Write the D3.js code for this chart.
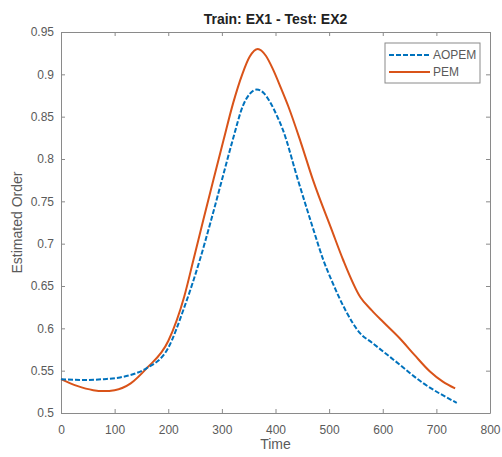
<!DOCTYPE html>
<html>
  <head>
    <meta http-equiv="Content-Type" content="text/html;charset=utf-8"/>
    <title>Train EX1 - Test EX2</title>
    <script src="https://d3js.org/d3.v7.min.js"></script>
    <style>
      body { margin: 0; background: #fff; }
      text { font-family: "Liberation Sans", Arial, sans-serif; }
    </style>
  </head>
  <body>
    <script type="text/javascript">
        // values
        const aopemTime = [0, 40, 80, 110, 140, 160, 200, 230, 259, 280, 300, 320, 340, 352, 365, 378, 390, 402, 414, 442, 471, 489, 505, 530, 558, 580, 620, 676, 738]
        const aopemOrder = [0.540, 0.539, 0.540, 0.542, 0.547, 0.553, 0.577, 0.625, 0.681, 0.728, 0.775, 0.822, 0.864, 0.877, 0.882, 0.878, 0.867, 0.852, 0.834, 0.775, 0.716, 0.681, 0.656, 0.622, 0.594, 0.583, 0.563, 0.535, 0.512]

        const pemTime = [0, 30, 60, 80, 100, 130, 160, 200, 230, 247, 265, 284, 303, 321, 338, 352, 367, 382, 396, 410, 424, 447, 470, 505, 526, 558, 580, 600, 632, 660, 688, 712, 735]
        const pemOrder = [0.540, 0.532, 0.527, 0.526, 0.527, 0.535, 0.553, 0.585, 0.638, 0.681, 0.727, 0.775, 0.822, 0.866, 0.900, 0.921, 0.930, 0.922, 0.905, 0.884, 0.862, 0.820, 0.775, 0.716, 0.681, 0.637, 0.621, 0.608, 0.588, 0.568, 0.549, 0.537, 0.529]

        const xTicks = [0, 100, 200, 300, 400, 500, 600, 700, 800]
        const yTicks = [0.5, 0.55, 0.6, 0.65, 0.7, 0.75, 0.8, 0.85, 0.9, 0.95]

        const width = 502,
            height = 457
        const margin = { top: 32, right: 12, bottom: 44, left: 61 }

        const svg = d3.select("body").append("svg")
            .attr("width", width)
            .attr("height", height)

        const x = d3.scaleLinear().domain([0, 800]).range([margin.left, width - margin.right])
        const y = d3.scaleLinear().domain([0.5, 0.95]).range([height - margin.bottom, margin.top])

        const axisColor = "#8a8a8a"
        const labelColor = "#5a5a5a"
        const tickLen = 4

        // box and inside ticks on all sides
        const drawAxis = (axis, transform) => {
            const g = svg.append("g").attr("transform", transform).call(axis)
            g.select(".domain").attr("stroke", axisColor)
            g.selectAll(".tick line").attr("stroke", axisColor)
            g.selectAll(".tick text")
                .attr("fill", labelColor)
                .style("font-size", "12px")
            return g
        }

        drawAxis(d3.axisBottom(x).tickValues(xTicks).tickSizeInner(-tickLen).tickSizeOuter(0).tickPadding(12)
            .tickFormat(d3.format("d")), `translate(0,${y(0.5)})`)
        drawAxis(d3.axisTop(x).tickValues(xTicks).tickSizeInner(-tickLen).tickSizeOuter(0).tickFormat(""),
            `translate(0,${y(0.95)})`)
        drawAxis(d3.axisLeft(y).tickValues(yTicks).tickSizeInner(-tickLen).tickSizeOuter(0).tickPadding(7)
            .tickFormat(d => d3.format("")(+d.toFixed(2))), `translate(${x(0)},0)`)
        drawAxis(d3.axisRight(y).tickValues(yTicks).tickSizeInner(-tickLen).tickSizeOuter(0).tickFormat(""),
            `translate(${x(800)},0)`)

        const line = d3.line()
            .x(d => x(d[0]))
            .y(d => y(d[1]))
            .curve(d3.curveMonotoneX)

        svg.append("path")
            .datum(pemTime.map((t, i) => [t, pemOrder[i]]))
            .attr("d", line)
            .attr("fill", "none")
            .attr("stroke", "#D95319")
            .attr("stroke-width", 2)

        svg.append("path")
            .datum(aopemTime.map((t, i) => [t, aopemOrder[i]]))
            .attr("d", line)
            .attr("fill", "none")
            .attr("stroke", "#0072BD")
            .attr("stroke-width", 2)
            .attr("stroke-dasharray", "5,2")

        // title and labels
        svg.append("text")
            .attr("x", (x(0) + x(800)) / 2)
            .attr("y", 24)
            .attr("text-anchor", "middle")
            .attr("font-weight", "bold")
            .style("font-size", "14px")
            .attr("fill", "#222")
            .text("Train: EX1 - Test: EX2")

        svg.append("text")
            .attr("x", (x(0) + x(800)) / 2)
            .attr("y", 449)
            .attr("text-anchor", "middle")
            .style("font-size", "14px")
            .attr("fill", labelColor)
            .text("Time")

        svg.append("text")
            .attr("transform", `translate(22,${(y(0.5) + y(0.95)) / 2}) rotate(-90)`)
            .attr("text-anchor", "middle")
            .style("font-size", "14px")
            .attr("fill", labelColor)
            .text("Estimated Order")

        // legend
        const legend = svg.append("g").attr("transform", "translate(385,43)")
        legend.append("rect")
            .attr("width", 95).attr("height", 40)
            .attr("fill", "#fff")
            .attr("stroke", axisColor)

        const items = [
            { name: "AOPEM", color: "#0072BD", dash: "5,2" },
            { name: "PEM", color: "#D95319", dash: null }
        ]
        items.forEach((d, i) => {
            const yy = 12 + i * 17
            legend.append("line")
                .attr("x1", 4).attr("x2", 45)
                .attr("y1", yy).attr("y2", yy)
                .attr("stroke", d.color)
                .attr("stroke-width", 2)
                .attr("stroke-dasharray", d.dash)
            legend.append("text")
                .attr("x", 48).attr("y", yy + 4)
                .style("font-size", "12px")
                .attr("fill", labelColor)
                .text(d.name)
        })
    </script>
  </body>
</html>
